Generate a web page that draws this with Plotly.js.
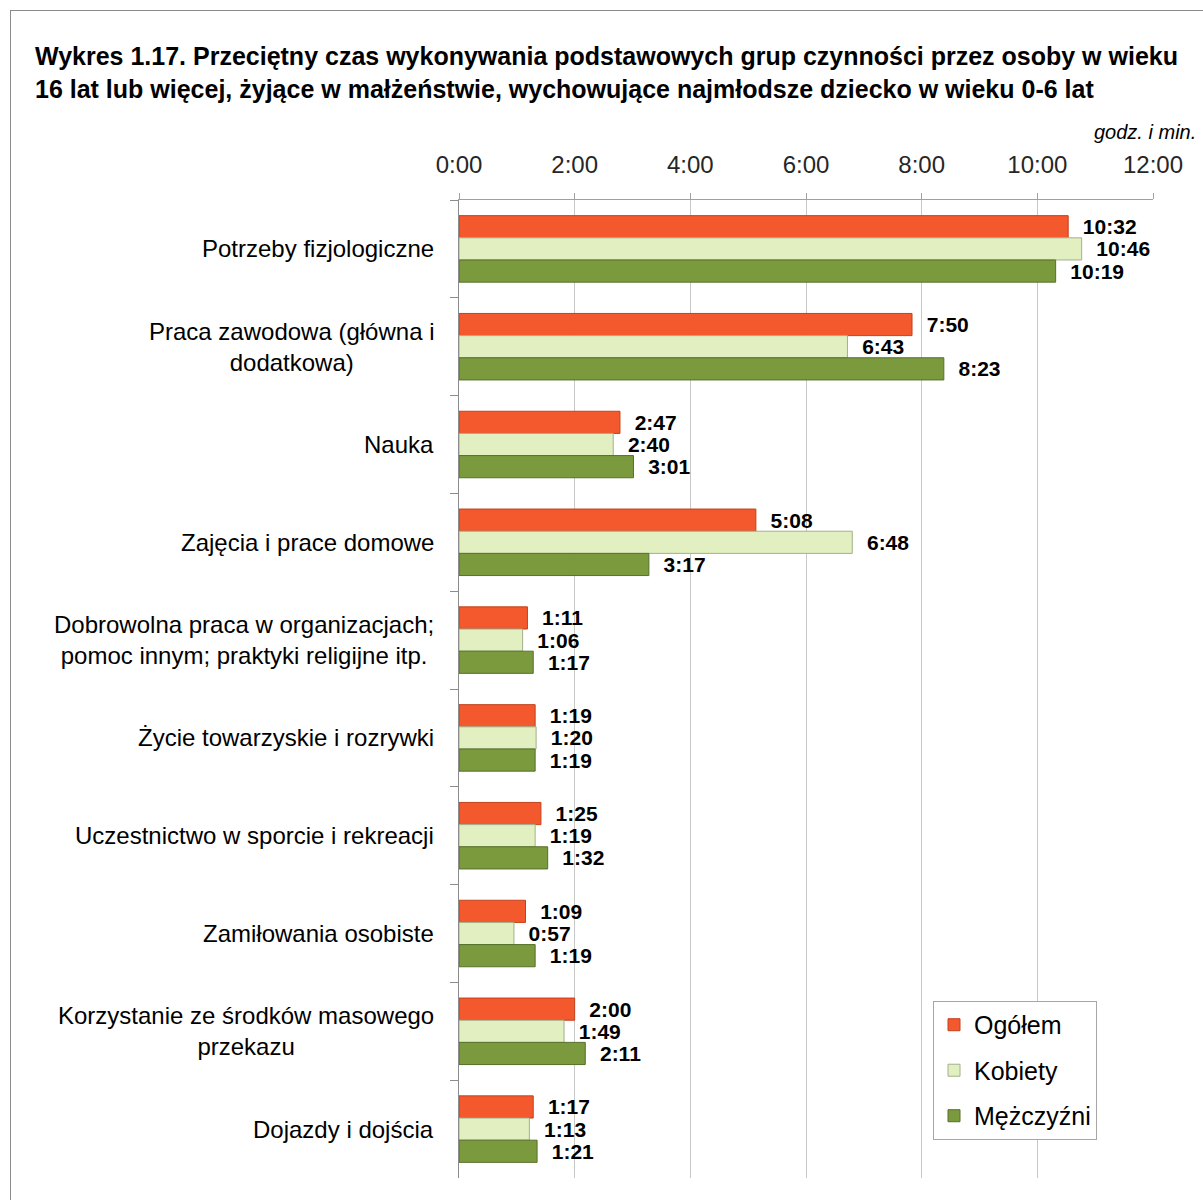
<!DOCTYPE html>
<html>
<head>
<meta charset="utf-8">
<script src="https://cdn.plot.ly/plotly-3.0.1.min.js"></script>
<style>
  body { margin: 0; padding: 0; background: #fff; }
  #frame { position: absolute; left: 10px; top: 10px; width: 1300px; height: 1300px; border: 1px solid #8c8c8c; box-sizing: border-box; }
  #chart { position: absolute; left: 0; top: 0; width: 1203px; height: 1200px; }
</style>
</head>
<body>
<div id="frame"></div>
<div id="chart"></div>
<script>
// Categories (top to bottom)
const categories = [
  "Potrzeby fizjologiczne",
  "Praca zawodowa (główna i<br>dodatkowa)",
  "Nauka",
  "Zajęcia i prace domowe",
  "Dobrowolna praca w organizacjach;<br>pomoc innym; praktyki religijne itp.",
  "Życie towarzyskie i rozrywki",
  "Uczestnictwo w sporcie i rekreacji",
  "Zamiłowania osobiste",
  "Korzystanie ze środków masowego<br>przekazu",
  "Dojazdy i dojścia"
];
// Values in minutes
const ogolem     = [632, 470, 167, 308, 71, 79, 85, 69, 120, 77];
const kobiety    = [646, 403, 160, 408, 66, 80, 79, 57, 109, 73];
const mezczyzni  = [619, 503, 181, 197, 77, 79, 92, 79, 131, 81];
const seriesNames = ["Ogółem", "Kobiety", "Mężczyźni"];
const tickVals = [0, 120, 240, 360, 480, 600, 720];
const tickText = ["0:00", "2:00", "4:00", "6:00", "8:00", "10:00", "12:00"];

const fmt = m => "\u00a0\u00a0" + Math.floor(m / 60) + ":" + String(m % 60).padStart(2, "0");
const FONT = "'Liberation Sans', Arial, sans-serif";

const colors = ["#F4582D", "#E2EFC0", "#7A9A3D"];
const lines  = ["#C2421C", "#A3B08C", "#55702A"];
const data = [ogolem, kobiety, mezczyzni].map((vals, i) => ({
  type: "bar",
  orientation: "h",
  name: seriesNames[i],
  legendgroup: "g" + i,
  y: categories,
  x: vals,
  text: vals.map(fmt),
  textposition: "outside",
  constraintext: "none",
  cliponaxis: false,
  textfont: { family: FONT, size: 21, color: "#000", weight: "bold" },
  marker: { color: colors[i], line: { color: lines[i], width: 1 } },
  hoverinfo: "skip"
}));

const annotations = categories.map(c => ({
  xref: "paper", yref: "y", x: -0.033, y: c,
  xanchor: "right", yanchor: "middle", align: "center",
  text: c, showarrow: false,
  font: { family: FONT, size: 24, color: "#000" }
}));
annotations.push({
  xref: "paper", yref: "paper", x: 1.065, y: 1.056,
  xanchor: "right", yanchor: "bottom",
  text: "<i>godz. i min.</i>", showarrow: false,
  font: { family: FONT, size: 20, color: "#000" }
});

const layout = {
  width: 1203, height: 1200,
  paper_bgcolor: "rgba(0,0,0,0)",
  plot_bgcolor: "rgba(0,0,0,0)",
  margin: { l: 459, r: 50, t: 200, b: 22 },
  title: {
    text: "<b>Wykres 1.17. Przeciętny czas wykonywania podstawowych grup czynności przez osoby w wieku<br>16 lat lub więcej, żyjące w małżeństwie, wychowujące najmłodsze dziecko w wieku 0-6 lat</b>",
    x: 35 / 1203, xanchor: "left", xref: "container",
    y: 1 - 65 / 1200, yanchor: "top", yref: "container",
    font: { family: FONT, size: 25, color: "#000" }
  },
  barmode: "group",
  bargap: 0.32,
  bargroupgap: 0,
  showlegend: true,
  legend: {
    x: 0.683, y: 0.181, xanchor: "left", yanchor: "top",
    bordercolor: "#a6a6a6", borderwidth: 1, bgcolor: "#fff",
    font: { family: FONT, size: 25, color: "#000" },
    traceorder: "grouped", tracegroupgap: 10
  },
  xaxis: {
    side: "top", range: [0, 720],
    tickvals: tickVals, ticktext: tickText,
    showgrid: true, gridcolor: "#c8c8c8", gridwidth: 1,
    showline: true, linecolor: "#a0a0a0", linewidth: 1,
    ticks: "outside", ticklen: 6, tickcolor: "#a0a0a0",
    ticklabelstandoff: 10,
    zeroline: false,
    tickfont: { family: FONT, size: 24, color: "#262626" }
  },
  yaxis: {
    autorange: "reversed",
    showticklabels: false,
    showline: true, linecolor: "#8c8c8c", linewidth: 1,
    ticks: "outside", ticklen: 8, tickcolor: "#8c8c8c",
    tickson: "boundaries",
    showgrid: false, zeroline: false
  },
  annotations: annotations
};

Plotly.newPlot("chart", data, layout, { displayModeBar: false, staticPlot: true });
</script>
</body>
</html>
